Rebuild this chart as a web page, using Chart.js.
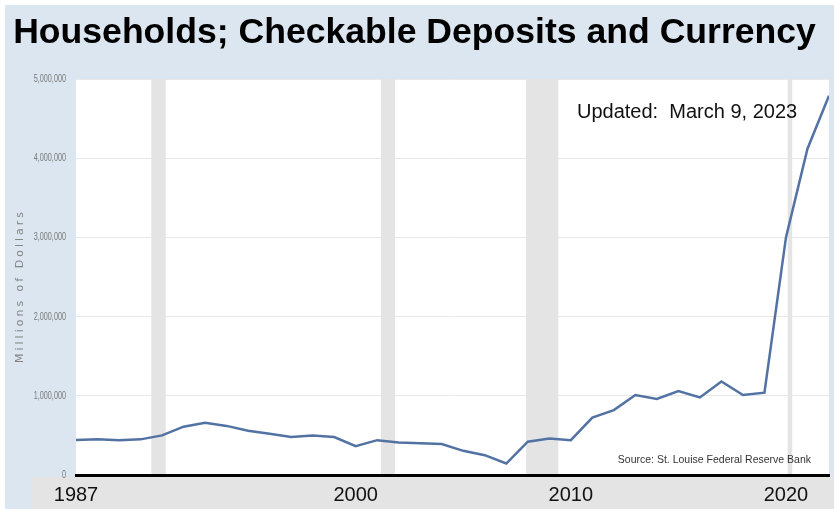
<!DOCTYPE html>
<html>
<head>
<meta charset="utf-8">
<title>Households; Checkable Deposits and Currency</title>
<script src="https://cdn.jsdelivr.net/npm/chart.js@4.4.1/dist/chart.umd.min.js"></script>
<style>
    html, body { margin: 0; padding: 0; background: #ffffff; }
    #wrap { position: relative; width: 834px; height: 509px; }
</style>
</head>
<body>
<div id="wrap"><canvas id="depositsChart"></canvas></div>
<script>
// Annual observations, millions of dollars
const years = [
    1987, 1988, 1989, 1990, 1991, 1992, 1993, 1994, 1995, 1996, 1997, 1998,
    1999, 2000, 2001, 2002, 2003, 2004, 2005, 2006, 2007, 2008, 2009, 2010,
    2011, 2012, 2013, 2014, 2015, 2016, 2017, 2018, 2019, 2020, 2021, 2022
];
const deposits = [
    443000, 450000, 440000, 450000, 500000, 610000, 660000, 620000, 560000, 520000, 480000, 500000,
    480000, 365000, 440000, 410000, 400000, 390000, 305000, 250000, 145000, 420000, 460000, 440000,
    725000, 820000, 1010000, 960000, 1060000, 980000, 1180000, 1010000, 1040000, 3000000, 4120000, 4790000
];
const yearTicks = [1987, 2000, 2010, 2020];
const valueTicks = [0, 1000000, 2000000, 3000000, 4000000, 5000000];

// Recession periods (start, end) as fractional years
const recessionStart = [1990.5, 2001.17, 2007.92, 2020.08];
const recessionEnd = [1991.17, 2001.83, 2009.42, 2020.29];

const titleText = 'Households; Checkable Deposits and Currency';
const yTitleText = 'Millions of Dollars';
const updatedText = 'Updated:  March 9, 2023';
const sourceText = 'Source: St. Louise Federal Reserve Bank';

// Panel backgrounds, bottom label band and the plot area
const backdrop = {
    id: 'backdrop',
    beforeDraw(chart) {
        const ctx = chart.ctx;
        const a = chart.chartArea;
        ctx.save();
        ctx.fillStyle = '#ffffff';
        ctx.fillRect(0, 0, chart.width, chart.height);
        ctx.fillStyle = '#dce6f0';
        ctx.fillRect(5, 5, chart.width - 5, chart.height - 5);
        ctx.fillStyle = '#e4e4e4';
        ctx.fillRect(31, a.bottom + 2, chart.width - 31, chart.height - a.bottom - 2);
        ctx.fillStyle = '#ffffff';
        ctx.fillRect(a.left, a.top, a.right - a.left, a.bottom - a.top);
        ctx.restore();
    }
};

// Shaded recession bars, painted over the grid and under the line
const recessions = {
    id: 'recessions',
    beforeDatasetsDraw(chart) {
        const ctx = chart.ctx;
        const a = chart.chartArea;
        const x = chart.scales.x;
        ctx.save();
        ctx.fillStyle = '#e4e4e4';
        recessionStart.forEach(function(start, i) {
            const x0 = x.getPixelForValue(start);
            const x1 = x.getPixelForValue(recessionEnd[i]);
            ctx.fillRect(x0, a.top, x1 - x0, a.bottom - a.top - 1);
        });
        ctx.restore();
    }
};

// Narrow value labels and the spaced-out axis title on the left
const valueAxis = {
    id: 'valueAxis',
    afterDraw(chart) {
        const ctx = chart.ctx;
        const y = chart.scales.y;
        const a = chart.chartArea;
        ctx.save();
        ctx.fillStyle = '#7a7a7a';
        ctx.font = '11px "Liberation Sans", Arial, sans-serif';
        ctx.textAlign = 'right';
        ctx.textBaseline = 'middle';
        valueTicks.forEach(function(v) {
            ctx.save();
            ctx.translate(a.left - 10, y.getPixelForValue(v));
            ctx.scale(0.66, 1);
            ctx.fillText(v.toLocaleString('en-US'), 0, 0);
            ctx.restore();
        });

        ctx.fillStyle = '#858585';
        ctx.font = '11px "DejaVu Sans", sans-serif';
        ctx.textAlign = 'center';
        ctx.letterSpacing = '3px';
        ctx.translate(20, 286);
        ctx.rotate(-Math.PI / 2);
        ctx.fillText(yTitleText, 0, 0);
        ctx.restore();
    }
};

// Update date and source notes
const notes = {
    id: 'notes',
    afterDraw(chart) {
        const ctx = chart.ctx;
        ctx.save();
        ctx.fillStyle = '#111111';
        ctx.font = '20px "Liberation Sans", Arial, sans-serif';
        ctx.textAlign = 'left';
        ctx.textBaseline = 'alphabetic';
        ctx.fillText(updatedText, 577, 118);
        ctx.fillStyle = '#333333';
        ctx.font = '10.5px "Liberation Sans", Arial, sans-serif';
        ctx.textAlign = 'right';
        ctx.fillText(sourceText, 811, 463);
        ctx.restore();
    }
};

const canvas = document.getElementById('depositsChart');
new Chart(canvas.getContext('2d'), {
    type: 'line',
    data: {
        datasets: [{
            label: 'Checkable Deposits and Currency',
            data: years.map((y, i) => ({ x: y, y: deposits[i] })),
            borderColor: '#5272a4',
            borderWidth: 2.5,
            pointRadius: 0,
            tension: 0,
            fill: false
        }]
    },
    options: {
        responsive: true,
        maintainAspectRatio: false,
        animation: false,
        layout: {
            padding: { left: 0, right: 5, top: 0, bottom: 0 }
        },
        plugins: {
            legend: { display: false },
            tooltip: { enabled: false },
            title: {
                display: true,
                text: titleText,
                color: '#000000',
                font: { family: '"Liberation Sans", Arial, sans-serif', size: 35.6, weight: 'bold' },
                padding: { top: 11.5, bottom: 24.8 }
            }
        },
        scales: {
            x: {
                type: 'linear',
                min: 1987,
                max: 2022,
                afterBuildTicks: function(scale) {
                    scale.ticks = yearTicks.map(v => ({ value: v }));
                },
                afterFit: function(scale) {
                    scale.height = 34;
                },
                grid: { display: false, drawTicks: false },
                border: { display: true, color: '#000000', width: 3 },
                ticks: {
                    autoSkip: false,
                    maxRotation: 0,
                    padding: 8,
                    color: '#111111',
                    font: { family: '"Liberation Sans", Arial, sans-serif', size: 20 },
                    callback: function(value) { return String(value); }
                }
            },
            y: {
                min: 0,
                max: 5000000,
                afterBuildTicks: function(scale) {
                    scale.ticks = valueTicks.map(v => ({ value: v }));
                },
                afterFit: function(scale) {
                    scale.width = 76;
                },
                grid: { color: '#e8e8e8', lineWidth: 1, drawTicks: false },
                border: { display: false },
                ticks: { display: false }
            }
        }
    },
    plugins: [backdrop, recessions, valueAxis, notes]
});
</script>
</body>
</html>
